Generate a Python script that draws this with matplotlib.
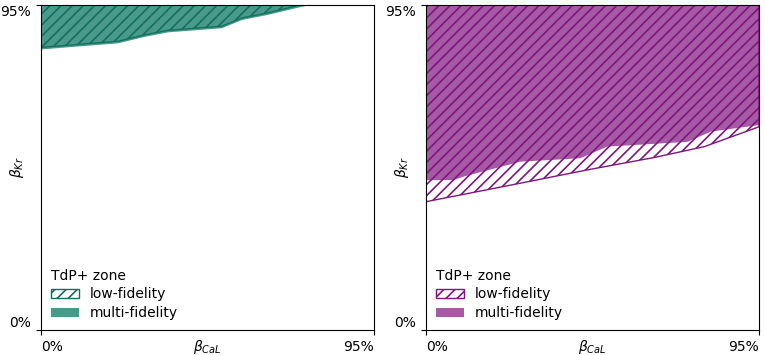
import numpy as np
import matplotlib
matplotlib.use("Agg")
import matplotlib.pyplot as plt
from matplotlib.patches import Patch

plt.rcParams["hatch.linewidth"] = 1.2

# boundaries of the TdP+ zone (beta_CaL in %, beta_Kr in %)
left_x_multi = [0, 22, 29.7, 36.2, 51.6, 57.3, 64.7, 74.5, 77.3, 95]
left_y_multi = [82.0, 83.8, 85.7, 87.0, 88.2, 90.6, 92.1, 94.5, 95, 95]
left_x_low = [0, 22, 29.7, 36.2, 51.6, 57.3, 64.7, 73.5, 76.0, 95]
left_y_low = [82.6, 84.4, 86.3, 87.6, 88.8, 91.2, 92.7, 94.9, 95, 95]

right_x_multi = [0, 7.8, 10.6, 26.9, 44.0, 51.7, 74.6, 81.3, 95]
right_y_multi = [43.8, 43.8, 44.8, 49.2, 50.2, 53.6, 55.0, 58.0, 59.9]
right_x_low = [0, 26.9, 46.0, 65.0, 79.4, 95]
right_y_low = [37.5, 42.9, 46.8, 50.4, 53.6, 59.4]

ticks = [0, 95]
tick_labels = ["0%", "95%"]

panels = [
    (left_x_low, left_y_low, left_x_multi, left_y_multi, "#4a9a8b", "#13705f"),
    (right_x_low, right_y_low, right_x_multi, right_y_multi, "#a65aa6", "#7d177c"),
]

fig = plt.figure(figsize=(7.65, 3.55), dpi=100)
ax_pos = [[41 / 765, 25 / 355, 333 / 765, 325 / 355],
          [426 / 765, 25 / 355, 333 / 765, 325 / 355]]

for pos, (xl, yl, xm, ym, fill_c, hatch_c) in zip(ax_pos, panels):
    ax = fig.add_axes(pos)
    ax.fill_between(xm, ym, 95, facecolor=fill_c, edgecolor="none", zorder=1)
    ax.fill_between(xl, yl, 95, facecolor="none", edgecolor=hatch_c,
                    hatch="///", linewidth=1.0, zorder=2)
    ax.set_xlim(0, 95)
    ax.set_ylim(0, 95)
    ax.set_xticks(ticks)
    ax.set_xticklabels(tick_labels)
    ax.set_yticks(ticks)
    ax.set_yticklabels(tick_labels)
    xt = ax.get_xticklabels()
    xt[0].set_ha("left")
    xt[1].set_ha("right")
    yt = ax.get_yticklabels()
    yt[0].set_va("bottom")
    yt[1].set_va("top")
    ax.set_xlabel(r"$\beta_{CaL}$", va="center")
    ax.xaxis.set_label_coords(0.5, -0.052)
    ax.set_ylabel(r"$\beta_{Kr}$")
    ax.yaxis.set_label_coords(-0.045, 0.5)

    handles = [Patch(facecolor="white", edgecolor=hatch_c, hatch="///", label="low-fidelity"),
               Patch(facecolor=fill_c, edgecolor="none", label="multi-fidelity")]
    ax.legend(handles=handles, title="TdP+ zone", loc="lower left",
              frameon=False, alignment="left", borderaxespad=0.3,
              labelspacing=0.35, handleheight=0.6)

fig.savefig("out.png", dpi=100)
